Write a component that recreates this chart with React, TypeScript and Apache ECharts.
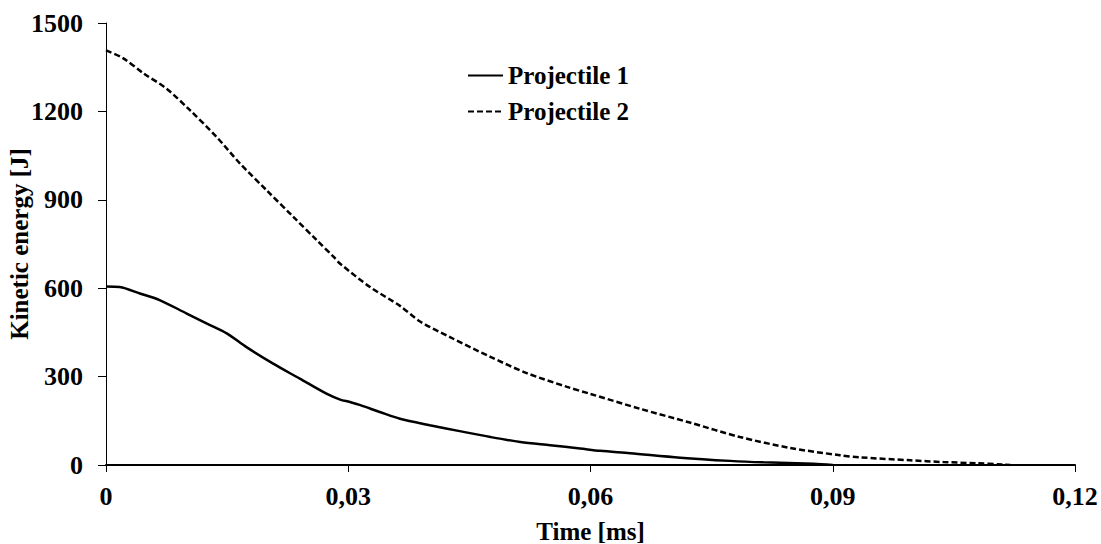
import React, { useEffect, useRef } from "react";
import * as echarts from "echarts";

const FONT = "Liberation Serif";

const seriesNames = ["Projectile 1", "Projectile 2"];

const p1Time = [0, 0.0017, 0.0042, 0.0067, 0.01, 0.0125, 0.015, 0.0174, 0.0207, 0.024, 0.0273, 0.029, 0.0302, 0.0315, 0.0339, 0.0364, 0.0401, 0.0438, 0.0476, 0.0513, 0.055, 0.0587, 0.0612, 0.0649, 0.0711, 0.0773, 0.0814, 0.0876, 0.09];
const p1Energy = [606, 604, 582, 559, 514, 480, 446, 400, 344, 293, 242, 222, 214, 203, 180, 157, 135, 115, 95, 78, 67, 56, 48, 40, 25, 14, 9, 4, 0];

const p2Time = [0, 0.0021, 0.0046, 0.0075, 0.0104, 0.0137, 0.0166, 0.0199, 0.0232, 0.0261, 0.0282, 0.029, 0.0327, 0.0364, 0.0389, 0.0426, 0.0476, 0.0521, 0.0571, 0.0599, 0.0661, 0.0723, 0.0785, 0.0847, 0.0909, 0.0934, 0.0996, 0.1037, 0.1078, 0.111, 0.112];
const p2Energy = [1407, 1381, 1330, 1277, 1204, 1113, 1023, 932, 842, 763, 706, 683, 604, 540, 487, 434, 367, 312, 265, 242, 191, 144, 95, 58, 33, 26, 16, 10, 6, 2, 0];

const xMin = 0;
const xMax = 0.12;
const xInterval = 0.03;
const yMin = 0;
const yMax = 1500;
const yInterval = 300;

const xTitle = "Time [ms]";
const yTitle = "Kinetic energy [J]";

function zip(a: number[], b: number[]) {
  return a.map((v, i) => [v, b[i]]);
}

export default function App() {
  const ref = useRef<HTMLDivElement>(null);
  useEffect(() => {
    if (!ref.current) return;
    const chart = echarts.init(ref.current, undefined, { renderer: "svg" });
    const labelStyle = { fontFamily: FONT, fontWeight: "bold" as const, fontSize: 25, color: "#000" };
    const tickStyle = { ...labelStyle, fontSize: 26 };
    chart.setOption({
      animation: false,
      backgroundColor: "#fff",
      grid: { left: 106, right: 26, top: 23, bottom: 79, containLabel: false, outerBoundsMode: "none" },
      legend: {
        orient: "vertical",
        left: 467,
        top: 63,
        padding: 0,
        itemWidth: 35,
        itemHeight: 14,
        itemGap: 11,
        textStyle: { ...labelStyle },
        itemStyle: { color: "transparent", borderColor: "transparent", borderWidth: 0 },
        data: seriesNames,
      },
      xAxis: {
        type: "value",
        min: xMin,
        max: xMax,
        interval: xInterval,
        name: xTitle,
        nameLocation: "middle",
        nameGap: 54,
        nameMoveOverlap: false,
        nameTextStyle: { ...labelStyle },
        axisLine: { show: true, lineStyle: { color: "#000", width: 2 } },
        axisTick: { show: true, length: 7, lineStyle: { color: "#000", width: 1 } },
        axisLabel: {
          ...tickStyle,
          margin: 18,
          formatter: (v: number) => (v === 0 ? "0" : String(+v.toFixed(4)).replace(".", ",")),
        },
        splitLine: { show: false },
      },
      yAxis: {
        type: "value",
        min: yMin,
        max: yMax,
        interval: yInterval,
        name: yTitle,
        nameLocation: "middle",
        nameGap: 74,
        nameMoveOverlap: false,
        nameTextStyle: { ...labelStyle },
        axisLine: { show: true, lineStyle: { color: "#000", width: 1 } },
        axisTick: { show: true, length: 8, lineStyle: { color: "#000", width: 1 } },
        axisLabel: { ...tickStyle, margin: 23, formatter: (v: number) => String(v) },
        splitLine: { show: false },
      },
      series: [
        {
          name: seriesNames[0],
          type: "line",
          data: zip(p1Time, p1Energy),
          showSymbol: false,
          symbol: "none",
          smooth: 0.3,
          lineStyle: { color: "#000", width: 2.5, type: "solid" },
          itemStyle: { color: "#000" },
        },
        {
          name: seriesNames[1],
          type: "line",
          data: zip(p2Time, p2Energy),
          showSymbol: false,
          symbol: "none",
          smooth: 0.3,
          lineStyle: { color: "#000", width: 2.5, type: [6, 3] },
          itemStyle: { color: "#000" },
        },
      ],
    });
    return () => chart.dispose();
  }, []);
  return (
    <div
      ref={ref}
      style={{ position: "fixed", left: 0, top: 0, width: 1101, height: 544, background: "#fff" }}
    />
  );
}
